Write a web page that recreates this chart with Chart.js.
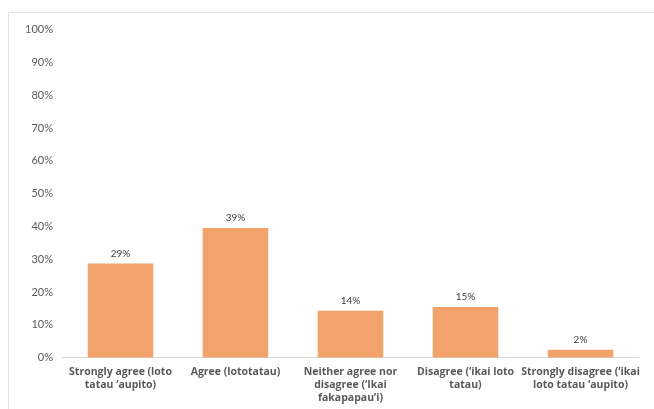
<!DOCTYPE html>
<html>
<head>
<meta charset="utf-8">
<script src="https://cdn.jsdelivr.net/npm/chart.js@4"></script>
<style>
  html, body { margin: 0; padding: 0; background: #fff; overflow: hidden; }
  #wrap { position: absolute; left: 8px; top: 12px; width: 646px; height: 401px;
          border-top: 1px solid #e3e3e3; border-left: 1px solid #e3e3e3; box-sizing: border-box; }
  canvas { display: block; }
</style>
</head>
<body>
<div id="wrap"><canvas id="c"></canvas></div>
<script>
const categories = [
  ["Strongly agree (loto", "tatau \u2018aupito)"],
  ["Agree (lototatau)"],
  ["Neither agree nor", "disagree (\u2018Ikai", "fakapapau\u2019i)"],
  ["Disagree (\u2018ikai loto", "tatau)"],
  ["Strongly disagree (\u2018ikai", "loto tatau \u2018aupito)"]
];
const values = [28.7, 39.5, 14.3, 15.4, 2.4];
const valueLabels = ["29%", "39%", "14%", "15%", "2%"];
const yTicks = [0, 10, 20, 30, 40, 50, 60, 70, 80, 90, 100];

const labelPlugin = {
  id: 'valueLabels',
  afterDatasetsDraw(chart) {
    const ctx = chart.ctx;
    const meta = chart.getDatasetMeta(0);
    ctx.save();
    ctx.font = '10px Lato, "Open Sans", sans-serif';
    ctx.fillStyle = '#404040';
    ctx.textAlign = 'center';
    ctx.textBaseline = 'bottom';
    meta.data.forEach((bar, i) => {
      ctx.fillText(valueLabels[i], bar.x, bar.y - 5);
    });
    ctx.restore();
  }
};

new Chart(document.getElementById('c'), {
  type: 'bar',
  data: {
    labels: categories,
    datasets: [{
      data: values,
      backgroundColor: '#F2A36B',
      categoryPercentage: 1.0,
      barPercentage: 0.57
    }]
  },
  options: {
    responsive: true,
    maintainAspectRatio: false,
    animation: false,
    layout: { padding: { left: 6, right: 16, top: 16, bottom: 0 } },
    plugins: { legend: { display: false }, tooltip: { enabled: false } },
    scales: {
      x: {
        grid: { display: false, drawTicks: false, tickLength: 0 },
        border: { display: true, color: '#d9d9d9', width: 1 },
        ticks: {
          color: '#595959',
          font: { family: '"Open Sans", Lato, sans-serif', size: 10.5, weight: 'bold', lineHeight: 1.25 },
          maxRotation: 0, autoSkip: false, padding: 8
        }
      },
      y: {
        min: 0, max: 100,
        afterBuildTicks(axis) { axis.ticks = yTicks.map(v => ({ value: v })); },
        grid: { display: false, drawTicks: false, tickLength: 0 },
        border: { display: false },
        ticks: {
          color: '#595959',
          font: { family: 'Lato, "Open Sans", sans-serif', size: 11 },
          padding: 10,
          callback: v => v + '%'
        }
      }
    }
  },
  plugins: [labelPlugin]
});
</script>
</body>
</html>
